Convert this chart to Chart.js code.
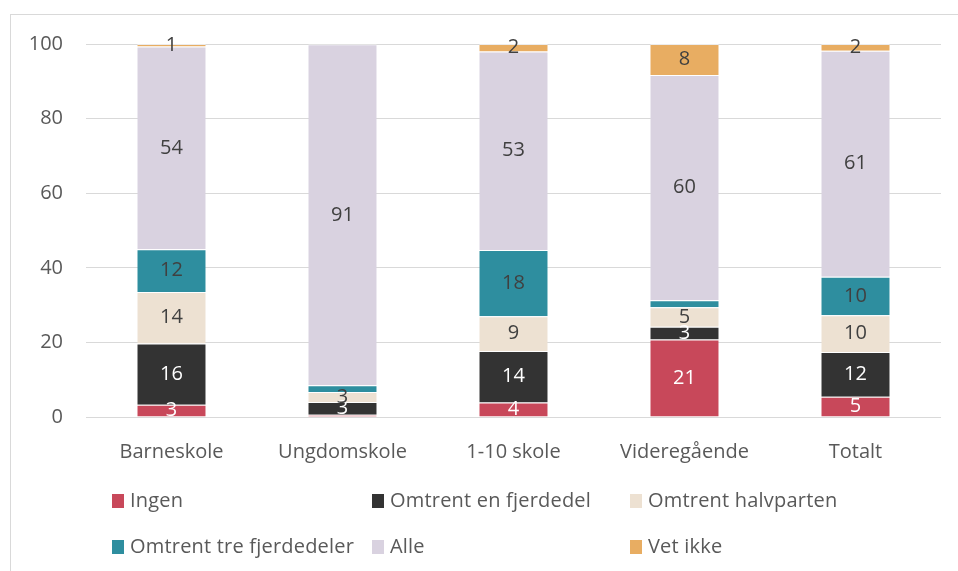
<!DOCTYPE html>
<html>
<head>
<meta charset="utf-8">
<script src="https://cdn.jsdelivr.net/npm/chart.js@4"></script>
<style>
  body { margin: 0; background: #fff; }
  #wrap { position: relative; width: 958px; height: 571px; overflow: hidden; }
  #frame { position: absolute; left: 10px; top: 14px; width: 980px; height: 600px; border: 1px solid #d9d9d9; }
  canvas { position: absolute; left: 0; top: 0; }
  .legend { position: absolute; font-family: 'Open Sans', sans-serif; font-size: 20px; color: #595959; white-space: nowrap; letter-spacing: 0.2px; }
  .legend span.box { display: inline-block; width: 12px; height: 14px; margin-right: 6px; vertical-align: -1px; }
</style>
</head>
<body>
<div id="wrap">
  <div id="frame"></div>
  <canvas id="chart" width="958" height="571"></canvas>
  <div id="legend"></div>
</div>
<script>
const categories = ['Barneskole', 'Ungdomskole', '1-10 skole', 'Videregående', 'Totalt'];
const seriesNames = ['Ingen', 'Omtrent en fjerdedel', 'Omtrent halvparten', 'Omtrent tre fjerdedeler', 'Alle', 'Vet ikke'];
const ingen = [3.3, 0.6, 3.9, 20.8, 5.4];
const fjerdedel = [16.4, 3.4, 13.8, 3.4, 12.0];
const halvparten = [13.8, 2.7, 9.3, 5.2, 9.9];
const treFjerdedeler = [11.5, 1.8, 17.8, 1.9, 10.3];
const alle = [54.3, 91.4, 53.2, 60.4, 60.6];
const vetIkke = [0.7, 0, 2.0, 8.3, 1.8];
const yTicks = [0, 20, 40, 60, 80, 100];

const colors = ['#C8485A', '#333333', '#EDE1D2', '#2E8E9F', '#D9D2E0', '#E8AD62'];
const labelColors = ['#ffffff', '#ffffff', '#404040', '#404040', '#404040', '#404040'];
const values = [ingen, fjerdedel, halvparten, treFjerdedeler, alle, vetIkke];
const fontFamily = "'Open Sans', sans-serif";

// value labels inside segments
const segmentLabels = {
  id: 'segmentLabels',
  afterDatasetsDraw(chart) {
    const ctx = chart.ctx;
    ctx.save();
    ctx.font = '20px ' + fontFamily;
    ctx.textAlign = 'center';
    ctx.textBaseline = 'middle';
    chart.data.datasets.forEach((ds, i) => {
      chart.getDatasetMeta(i).data.forEach((bar, j) => {
        const v = ds.data[j];
        if (v < 0.5 || (v < 2.5 && i !== 5)) return;
        ctx.fillStyle = labelColors[i];
        ctx.fillText(Math.round(v), bar.x, (bar.y + bar.base) / 2);
      });
    });
    ctx.restore();
  }
};

new Chart(document.getElementById('chart'), {
  type: 'bar',
  data: {
    labels: categories,
    datasets: seriesNames.map((name, i) => ({
      label: name,
      data: values[i],
      backgroundColor: colors[i],
      borderColor: 'rgba(255,255,255,0.5)',
      borderWidth: { top: 1 },
      borderSkipped: false,
      barPercentage: 0.4,
      categoryPercentage: 1
    }))
  },
  options: {
    responsive: false,
    animation: false,
    layout: { padding: { top: 44, right: 17, left: 0, bottom: 0 } },
    plugins: { legend: { display: false }, tooltip: { enabled: false } },
    scales: {
      x: {
        stacked: true,
        grid: { display: false },
        border: { display: false },
        ticks: { color: '#595959', font: { family: fontFamily, size: 20 }, padding: 15 },
        afterFit: s => { s.height = 154; }
      },
      y: {
        stacked: true,
        min: 0,
        max: 100,
        afterBuildTicks: s => { s.ticks = yTicks.map(v => ({ value: v })); },
        grid: { color: '#d9d9d9', drawTicks: false },
        border: { display: false },
        ticks: { color: '#595959', font: { family: fontFamily, size: 20 }, padding: 23 },
        afterFit: s => { s.width = 86; }
      }
    }
  },
  plugins: [segmentLabels]
});

// legend laid out in columns like the original
const legendPos = [[112, 500], [372, 500], [630, 500], [112, 546], [372, 546], [630, 546]];
const legend = document.getElementById('legend');
seriesNames.forEach((name, i) => {
  const d = document.createElement('div');
  d.className = 'legend';
  d.style.left = legendPos[i][0] + 'px';
  d.style.top = (legendPos[i][1] - 14) + 'px';
  d.innerHTML = '<span class="box" style="background:' + colors[i] + '"></span>' + name;
  legend.appendChild(d);
});
</script>
</body>
</html>
